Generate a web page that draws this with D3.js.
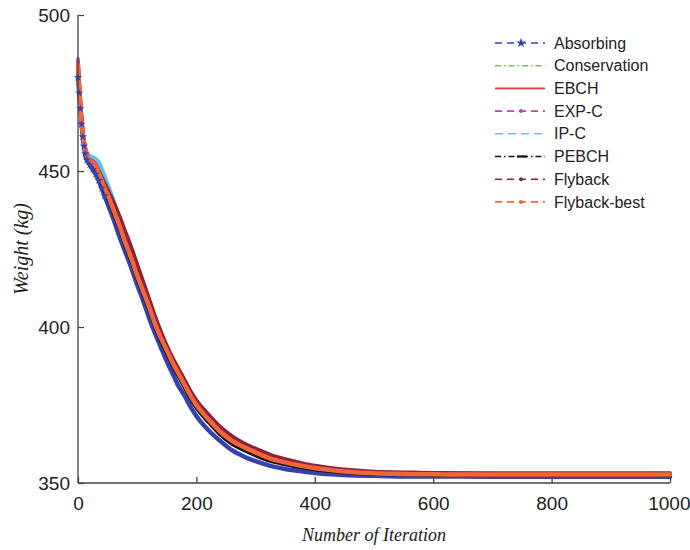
<!DOCTYPE html>
<html>
<head>
<meta charset="utf-8">
<script src="https://cdn.jsdelivr.net/npm/d3@7/dist/d3.min.js"></script>
<style>
    body { margin: 0; background: #fff; }
    svg { display: block; }
    .tick text { font-family: "Liberation Sans", Arial, sans-serif; font-size: 19px; fill: #222; }
    .axis path, .axis line { stroke: #444; stroke-width: 1.3; }
</style>
</head>
<body>
<div id="chart"></div>
<script>
// iteration sample points (x)
const iterations = [0, 2, 4, 6, 8, 10, 12, 15, 20, 25, 30, 35, 40, 45, 50, 60, 70, 80, 90, 100,
    110, 120, 130, 140, 150, 160, 170, 180, 190, 200, 220, 240, 260, 280, 300, 325, 350, 375, 400,
    450, 500, 550, 600, 700, 800, 900, 1000];

// weight (kg) per method
const absorbing = [480, 475, 470, 465, 461, 458, 455.5, 453.5, 452, 450.5, 449, 447, 444.5, 442, 439.5,
    434.5, 429, 424, 419, 413.5, 408.5, 403, 398, 393.5, 389, 385, 381, 378, 374.5, 371.5, 367, 363.5,
    360.5, 358.5, 357, 355.5, 354.5, 353.8, 353.2, 352.6, 352.3, 352.1, 352.1, 352, 352, 352, 352];
const conservation = [483, 477, 471, 466, 462, 459, 457, 455, 453.5, 452.5, 451.5, 449.5, 447.5, 445, 443,
    438, 433, 427.5, 422.5, 417, 412, 407, 401.5, 397, 393, 389, 385.5, 382, 378.5, 375.5, 371, 367,
    364, 361.8, 360, 358, 356.8, 355.7, 354.9, 353.8, 353.2, 353, 352.8, 352.7, 352.7, 352.7, 352.7];
const ebch = [485, 478, 472, 466.5, 462.5, 459.5, 457.5, 455.5, 454, 453, 451.5, 449.5, 447, 444.5, 442.5,
    437.5, 432.5, 427, 422, 416.5, 411.5, 406.5, 401, 396.5, 392.5, 388.5, 385, 381.5, 378, 375, 370.5,
    366.5, 363.5, 361.5, 359.8, 357.8, 356.6, 355.6, 354.8, 353.7, 353.1, 352.9, 352.8, 352.7, 352.7, 352.7, 352.7];
const expC = [486, 479, 473, 467.5, 463, 460, 458, 456, 454.5, 453.5, 452.5, 451, 449, 447, 445,
    440, 435, 429.5, 424, 418, 412.5, 407, 401.5, 397, 393, 389, 385.5, 382, 378.5, 375.5, 371, 367,
    364, 361.8, 360, 358, 356.8, 355.7, 354.9, 353.8, 353.2, 353, 352.8, 352.7, 352.7, 352.7, 352.7];
const ipC = [483, 477, 471, 466, 462, 459.5, 457.5, 456, 455, 454.5, 454, 453, 451, 448.5, 446,
    441, 435.5, 430, 424.5, 418.5, 413, 407.5, 402, 397.5, 393, 389, 385.5, 382, 378.5, 375.5, 371, 367,
    364, 361.8, 360, 358, 356.8, 355.7, 354.9, 353.8, 353.2, 353, 352.8, 352.7, 352.7, 352.7, 352.7];
const pebch = [482, 476, 470.5, 465.5, 461.5, 458.5, 456.5, 454.5, 453, 452, 450.5, 448.5, 446, 443.5, 441.5,
    436.5, 431.5, 426, 421, 415.5, 410.5, 405.5, 400, 395.5, 391.5, 387.5, 384, 380.5, 377, 374, 369.5,
    365.5, 362.5, 360.5, 358.8, 357, 355.9, 355, 354.3, 353.4, 352.9, 352.7, 352.6, 352.5, 352.5, 352.5, 352.5];
const flyback = [483, 477, 471.5, 466.5, 462.5, 459.5, 457, 455, 453.5, 452.5, 451.5, 450, 448, 446, 444,
    440, 435.5, 430.5, 425.5, 420, 414.5, 409, 403.5, 398.5, 394, 390, 386.5, 383, 379.5, 376.5, 372,
    368, 365, 362.7, 361, 359, 357.6, 356.5, 355.5, 354.3, 353.6, 353.4, 353.2, 353.1, 353.1, 353.1, 353.1];
const flybackBest = [484, 477, 471, 466, 462, 459, 457, 455, 453.5, 452.5, 451.5, 449.5, 447, 444.5, 442.5,
    437.5, 432.5, 427, 422, 416.5, 411.5, 406.5, 401, 396.5, 392.5, 388.5, 385, 381.5, 378, 375, 370.5,
    366.5, 363.5, 361.5, 359.8, 357.8, 356.6, 355.6, 354.8, 353.7, 353.1, 352.9, 352.8, 352.7, 352.7, 352.7, 352.7];

const names = ["Absorbing", "Conservation", "EBCH", "EXP-C", "IP-C", "PEBCH", "Flyback", "Flyback-best"];
const xTicks = [0, 200, 400, 600, 800, 1000];
const yTicks = [350, 400, 450, 500];

const series = [
    { name: names[0], values: absorbing,    color: "#3342b0", width: 4.5, dash: "7,5",       marker: "star" },
    { name: names[1], values: conservation, color: "#7cc24b", width: 3.5, dash: "6,3,1.5,3", marker: null },
    { name: names[2], values: ebch,         color: "#f23232", width: 3.5, dash: null,        marker: null },
    { name: names[3], values: expC,         color: "#c441b4", width: 3.5, dash: "7,5",       marker: "dot" },
    { name: names[4], values: ipC,          color: "#5cc9e4", width: 3.5, dash: "8,5",       marker: null },
    { name: names[5], values: pebch,        color: "#111111", width: 3.5, dash: "6,3,1.5,3", marker: "bar" },
    { name: names[6], values: flyback,      color: "#8c2339", width: 4,   dash: "7,5",       marker: "dot" },
    { name: names[7], values: flybackBest,  color: "#f1653b", width: 4.5, dash: "7,5",       marker: "dot" }
];

const width = 690, height = 550;
const margin = { top: 15, right: 20, bottom: 67, left: 78 };

const svg = d3.select("#chart").append("svg")
    .attr("width", width)
    .attr("height", height);

const x = d3.scaleLinear().domain([0, 1000]).range([margin.left, width - margin.right]);
const y = d3.scaleLinear().domain([350, 500]).range([height - margin.bottom, margin.top]);

// curves
const line = d3.line()
    .x((d, i) => x(iterations[i]))
    .y(d => y(d))
    .curve(d3.curveMonotoneX);

svg.append("g").selectAll("path")
    .data(series)
    .join("path")
    .attr("d", d => line(d.values))
    .attr("fill", "none")
    .attr("stroke", d => d.color)
    .attr("stroke-width", d => d.width)
    .attr("stroke-linejoin", "round")
    .attr("stroke-linecap", "round");

// star markers on the absorbing curve where they stand out (early part)
const starSym = d3.symbol().type(d3.symbolStar).size(22);
svg.append("g").selectAll("path")
    .data(iterations.slice(0, 14).map((it, i) => [it, absorbing[i]]))
    .join("path")
    .attr("d", starSym)
    .attr("transform", d => `translate(${x(d[0])},${y(d[1])})`)
    .attr("fill", "#3342b0");

// axes
const xAxis = svg.append("g")
    .attr("class", "axis")
    .attr("transform", `translate(0,${height - margin.bottom})`)
    .call(d3.axisBottom(x).tickValues(xTicks).tickSize(-6).tickPadding(14).tickFormat(d3.format("d")));
// keep the last label inside the page edge
xAxis.selectAll(".tick text").filter(d => d === 1000).attr("text-anchor", "end").attr("x", 20);

const yAxis = svg.append("g")
    .attr("class", "axis")
    .attr("transform", `translate(${margin.left},0)`)
    .call(d3.axisLeft(y).tickValues(yTicks).tickSize(-6).tickPadding(8).tickSizeOuter(0));
xAxis.select(".domain").attr("d", `M${x(0)},0H${x(1000)}`);
yAxis.select(".domain").attr("d", `M0,${y(350)}V${y(500)}`);

// axis titles
svg.append("text")
    .attr("x", (x(0) + x(1000)) / 2)
    .attr("y", 541)
    .attr("text-anchor", "middle")
    .style("font-family", "'Liberation Serif', 'Times New Roman', serif")
    .style("font-style", "italic")
    .style("font-size", "18px")
    .style("fill", "#222")
    .text("Number of Iteration");

svg.append("text")
    .attr("transform", `translate(28,${(y(350) + y(500)) / 2}) rotate(-90)`)
    .attr("text-anchor", "middle")
    .style("font-family", "'Liberation Serif', 'Times New Roman', serif")
    .style("font-style", "italic")
    .style("font-size", "20px")
    .style("fill", "#222")
    .text("Weight (kg)");

// legend
const legend = svg.append("g").attr("transform", "translate(495,43)");
const rows = legend.selectAll("g")
    .data(series)
    .join("g")
    .attr("transform", (d, i) => `translate(0,${i * 22.7})`);

rows.append("line")
    .attr("x1", 0).attr("x2", 50)
    .attr("stroke", d => d.color)
    .attr("stroke-width", 1.6)
    .attr("stroke-dasharray", d => d.dash);

rows.filter(d => d.marker === "star").append("path")
    .attr("d", d3.symbol().type(d3.symbolStar).size(30))
    .attr("transform", "translate(26,0)")
    .attr("fill", d => d.color);

rows.filter(d => d.marker === "dot").append("circle")
    .attr("cx", 26).attr("r", 2)
    .attr("fill", d => d.color);

rows.filter(d => d.marker === "bar").append("line")
    .attr("x1", 22).attr("x2", 32)
    .attr("stroke", d => d.color)
    .attr("stroke-width", 2.2);

rows.append("text")
    .attr("x", 59)
    .attr("dy", "0.35em")
    .style("font-family", "'Liberation Sans', Arial, sans-serif")
    .style("font-size", "16px")
    .style("fill", "#222")
    .text(d => d.name);
</script>
</body>
</html>
